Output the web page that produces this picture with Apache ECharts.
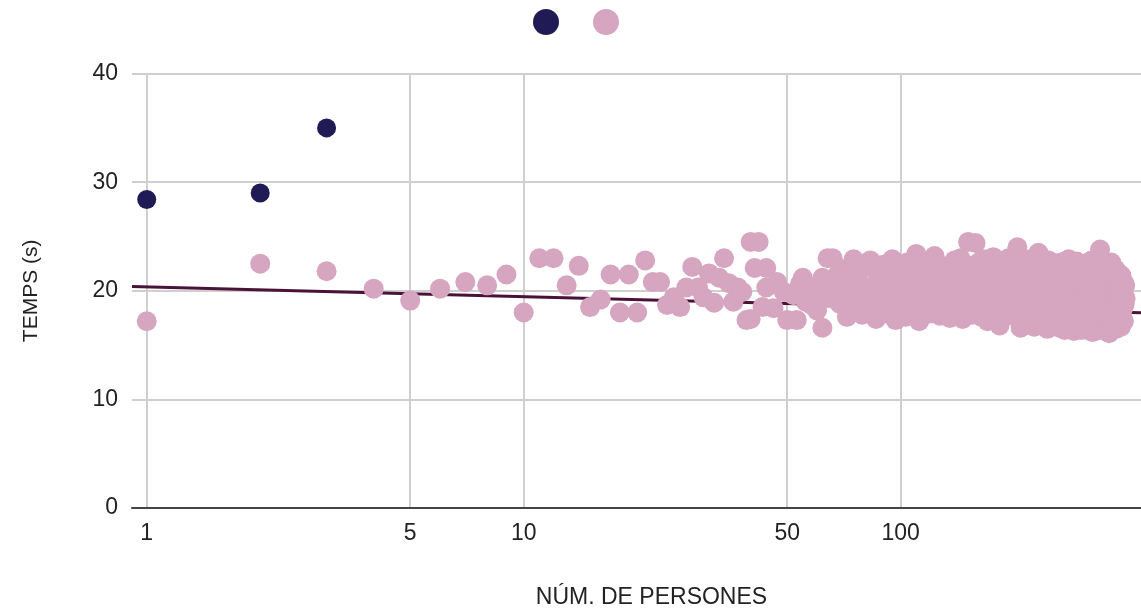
<!DOCTYPE html>
<html>
<head>
<meta charset="utf-8">
<script src="https://cdn.jsdelivr.net/npm/echarts@6/dist/echarts.min.js"></script>
<style>
html,body{margin:0;padding:0;background:#fff;}
#chart{width:1141px;height:612px;}
</style>
</head>
<body>
<div id="chart"></div>
<script>
// ---- data ----
const xTickValues = [1, 5, 10, 50, 100];
const yTickValues = [0, 10, 20, 30, 40];
const seriesNames = ['Primers grups', 'Grups'];

// dark series [persons, seconds]
const darkPoints = [[1, 28.4], [2, 29.0], [3, 35.0]];

// pink series, sparse part [persons, seconds]
const pinkSparse = [
  [1,17.2],[2,22.5],[3,21.8],[4,20.2],[5,19.1],[6,20.2],[7,20.8],[8,20.5],[9,21.5],[10,18.0],
  [11,23.0],[12,23.0],[13,20.5],[14,22.3],[15,18.5],[16,19.2],[17,21.5],[18,18.0],[19,21.5],[20,18.0],
  [21,22.8],[22,20.8],[23,20.8],[24,18.7],[25,19.4],[26,18.5],[27,20.3],[28,22.2],[29,20.3],[30,19.4],
  [31,21.6],[32,18.9],[33,21.2],[34,23.0],[35,20.7],[36,19.0],[37,20.3],[38,19.9],[39,17.3],[40,17.4],
  [40,24.5],[42,24.5],[41,22.1],[44,22.1],[43,18.5],[44,20.3],[46,18.4],[47,20.8],[49,19.9],[50,17.3],
  [52,19.6],[53,17.3],[54,20.6],[55,21.2],[56,19.0],[57,20.3],[58,18.7],[59,19.8],[60,18.2],[61,20.6],
  [62,16.6],[62,21.2],[63,19.3],[64,23.0]
];

// pink series, dense part: seconds for consecutive group sizes starting at denseStart
const denseStart = 65;
const pinkDense = [
  20.8,23.0,19.2,21.5,18.8,22.0,20.1,17.6,21.2,19.6,22.9,18.4,20.6,21.8,17.8,19.9,22.2,18.9,22.8,20.4,
  19.1,17.4,21.6,20.0,18.3,22.4,19.5,21.0,17.9,20.7,22.9,19.3,17.3,21.4,20.2,
  18.6,21.9,19.8,17.6,22.6,20.5,18.2,21.3,19.4,22.1,23.4,20.0,17.2,21.7,19.0,22.5,18.5,20.8,21.9,17.9,
  20.3,22.7,19.6,23.2,18.8,21.1,20.1,17.7,22.3,19.2,21.5,18.4,20.6,22.0,19.9,17.5,21.2,20.4,18.7,22.8,
  19.5,21.8,18.1,20.9,23.0,19.3,17.4,21.4,20.0,22.4,18.9,24.5,20.7,19.1,22.1,17.8,21.0,19.7,24.4,18.3,
  20.5,22.6,19.4,21.6,17.6,20.2,22.9,18.6,21.3,19.9,17.2,22.2,20.8,18.0,21.7,19.6,23.1,18.8,20.3,21.9,
  17.3,19.8,22.5,16.8,20.6,21.1,18.4,22.7,19.2,20.9,17.7,21.5,19.5,23.0,18.2,20.1,22.3,17.9,21.2,19.0,
  20.4,18.1,22.2,19.6,24.0,17.4,21.0,19.9,16.6,22.6,20.2,18.7,21.5,17.7,19.3,22.9,20.6,16.9,21.8,18.5,
  19.7,22.4,17.3,20.9,18.9,21.3,16.7,22.0,19.4,20.5,17.8,21.7,23.5,18.3,20.1,19.0,22.7,16.8,21.1,19.8,
  17.5,22.3,20.7,18.6,21.6,16.5,19.5,22.8,18.0,20.3,21.9,17.2,19.2,22.5,18.8,20.8,16.9,21.4,19.9,17.6,
  22.1,20.0,18.4,21.2,16.6,19.7,22.6,18.2,20.5,17.4,21.8,19.3,16.4,22.4,20.2,18.6,21.0,17.0,19.6,22.9,
  18.1,20.7,16.7,21.5,19.1,17.8,22.2,20.4,16.3,18.9,21.3,19.8,17.3,22.7,20.1,16.6,18.5,21.7,19.4,17.1,
  22.0,20.6,16.4,18.8,21.1,19.2,17.5,22.5,20.3,16.8,18.3,21.6,19.7,17.2,22.3,20.0,16.5,18.7,21.4,19.0,
  17.6,22.8,20.5,16.2,18.4,21.9,19.5,17.0,20.9,22.1,16.7,18.9,21.2,19.9,17.4,22.4,20.2,16.4,23.8,18.6,
  21.5,19.3,17.8,22.6,20.7,16.6,18.2,21.0,19.6,17.3,22.2,20.4,16.9,18.5,21.7,19.1,17.5,16.1,20.8,18.0,
  21.3,19.7,22.6,17.1,20.1,18.7,16.8,21.8,19.4,17.7,20.6,22.0,18.3,16.5,19.8,21.1,17.4,20.3,18.9,21.6,
  17.0,19.5,20.9,18.1,16.7,21.4,19.2,17.6,20.5,18.4,19.9,17.2,20.7,18.8,20.5,19.3
];

// logarithmic trend line: seconds = a + b*log10(persons)
const trendA = 20.35;
const trendB = -0.90;
const xMin = 0.914, xMax = 434;

// ---- build ----
const pinkPoints = pinkSparse.concat(pinkDense.map((v, i) => [denseStart + i, v]));
const trendPoints = [xMin, xMax].map(x => [x, trendA + trendB * Math.log10(x)]);

const FONT = 'Arial, "Liberation Sans", sans-serif';
const chart = echarts.init(document.getElementById('chart'), null, {renderer: 'canvas'});
chart.setOption({
  animation: false,
  backgroundColor: '#fff',
  legend: {
    data: seriesNames,
    left: 528, top: 4,
    itemWidth: 26, itemHeight: 26, itemGap: 34,
    icon: 'circle',
    formatter: () => '',
    selectedMode: false
  },
  grid: {left: 132, right: 0, top: 73.6, bottom: 104, containLabel: false, outerBoundsMode: 'none'},
  xAxis: {
    type: 'log', logBase: 10, min: xMin, max: xMax,
    name: 'NÚM. DE PERSONES', nameLocation: 'middle', nameGap: 78,
    nameTextStyle: {fontFamily: FONT, fontSize: 23, color: '#222', padding: [0, 0, 0, 30]},
    axisLine: {show: true, onZero: false, lineStyle: {color: '#444', width: 2}},
    axisTick: {show: false, customValues: xTickValues},
    axisLabel: {customValues: xTickValues, fontFamily: FONT, fontSize: 23, color: '#222', margin: 14,
      formatter: v => String(Math.round(v))},
    splitLine: {show: true, lineStyle: {color: '#cfcfcf', width: 2}}
  },
  yAxis: {
    type: 'value', min: 0, max: 40, interval: 10,
    name: 'TEMPS (s)', nameLocation: 'middle', nameGap: 90, nameRotate: 90,
    nameTextStyle: {fontFamily: FONT, fontSize: 21, color: '#222'},
    axisLine: {show: false}, axisTick: {show: false},
    axisLabel: {fontFamily: FONT, fontSize: 23, color: '#222', margin: 14},
    splitLine: {show: true, lineStyle: {color: '#cfcfcf', width: 2}}
  },
  series: [
    {
      name: 'trend', type: 'line', data: trendPoints, showSymbol: false, symbol: 'none',
      lineStyle: {color: '#4a1238', width: 3}, z: 2, silent: true
    },
    {
      name: seriesNames[0], type: 'scatter', data: darkPoints, symbolSize: 19,
      itemStyle: {color: '#201a55', opacity: 1}, z: 3
    },
    {
      name: seriesNames[1], type: 'scatter', data: pinkPoints, symbolSize: 20,
      itemStyle: {color: '#d6a5c0', opacity: 1}, z: 3
    }
  ]
});
</script>
</body>
</html>
